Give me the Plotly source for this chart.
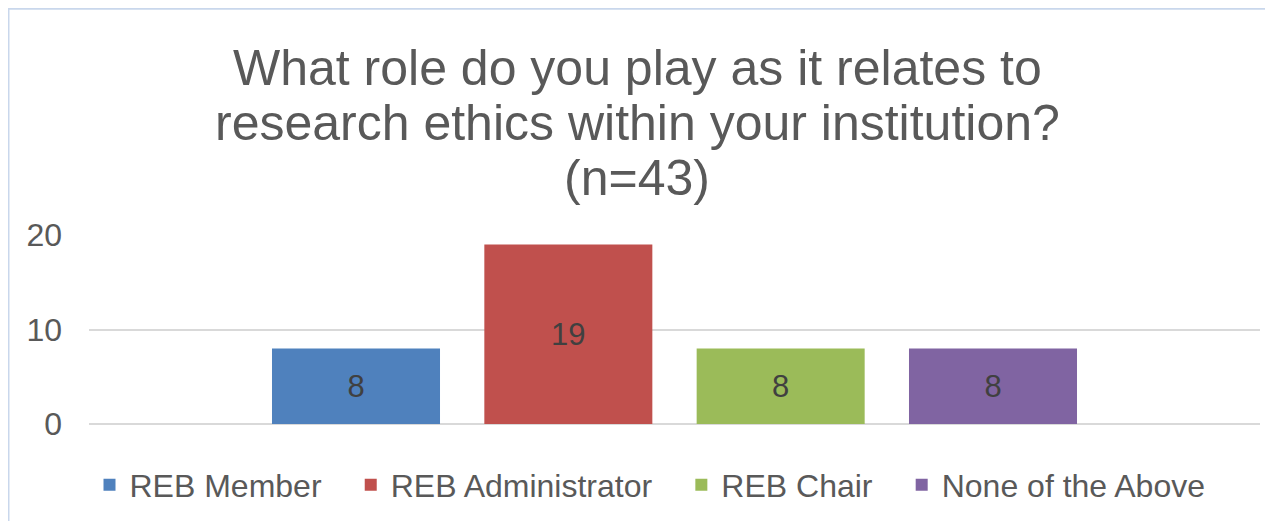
import plotly.graph_objects as go

series_names = ["REB Member", "REB Administrator", "REB Chair", "None of the Above"]
series_values = [8, 19, 8, 8]
series_colors = ["#4F81BD", "#C0504D", "#9BBB59", "#8064A2"]
category = [""]
title_lines = ["What role do you play as it relates to",
               "research ethics within your institution?",
               "(n=43)"]
y_ticks = [0, 10, 20]

FONT = "Liberation Sans, Arial, sans-serif"
OFF = 8  # page body margin
W, H = 1273 - OFF, 521 - OFF
# plot area in window pixels
PL, PR, PT, PB = 89, 1260, 235, 424.3
ML, MR, MT, MB = PL - OFF, W - (PR - OFF), PT - OFF, H - (PB - OFF)
PH = H - MT - MB
PW = W - ML - MR

fig = go.Figure()
for name, val, col in zip(series_names, series_values, series_colors):
    fig.add_trace(go.Bar(
        x=category, y=[val], name=name + "\u00a0\u00a0\u2009",
        marker=dict(color=col, line=dict(width=0)),
        text=[str(val)], textposition="inside", insidetextanchor="middle",
        textfont=dict(family=FONT, size=31, color="#404040"),
        insidetextfont=dict(family=FONT, size=31, color="#404040"),
        textangle=0,
    ))

def py(p):  # window pixel y -> paper
    return (PB - p) / PH

def px(p):  # window pixel x -> paper
    return (p - PL) / PW

annotations = []
centers = [68, 122.5, 178]
for line, c in zip(title_lines, centers):
    annotations.append(dict(
        text=line, x=px(637), y=py(c), xref="paper", yref="paper",
        xanchor="center", yanchor="middle", showarrow=False,
        font=dict(family=FONT, size=50, color="#595959"),
    ))

fig.update_layout(
    width=W, height=H,
    margin=dict(l=ML, r=MR, t=MT, b=MB, pad=0, autoexpand=False),
    paper_bgcolor="white", plot_bgcolor="white",
    barmode="group", bargap=0.2747, bargroupgap=0.2087,
    showlegend=True,
    legend=dict(orientation="h", xref="container", yref="container",
                x=(662 - OFF) / W, xanchor="center",
                y=1 - (485 - OFF) / H, yanchor="middle",
                font=dict(family=FONT, size=32, color="#595959"),
                itemclick=False, traceorder="normal"),
    annotations=annotations,
    shapes=[dict(type="rect", xref="paper", yref="paper",
                 x0=px(8.5), x1=px(1400), y0=py(600), y1=py(8.5),
                 line=dict(color="#C9D7EC", width=2), layer="below")],
    xaxis=dict(showticklabels=False, showgrid=False, zeroline=False,
               showline=False, ticks=""),
    yaxis=dict(range=[0, 20], tickvals=y_ticks, showgrid=True,
               gridcolor="#D9D9D9", gridwidth=1.5, zeroline=True,
               zerolinecolor="#D9D9D9", zerolinewidth=1.5, showline=False,
               ticks="", ticklabelstandoff=26,
               tickfont=dict(family=FONT, size=32, color="#595959")),
)

fig.write_html("out.html")
